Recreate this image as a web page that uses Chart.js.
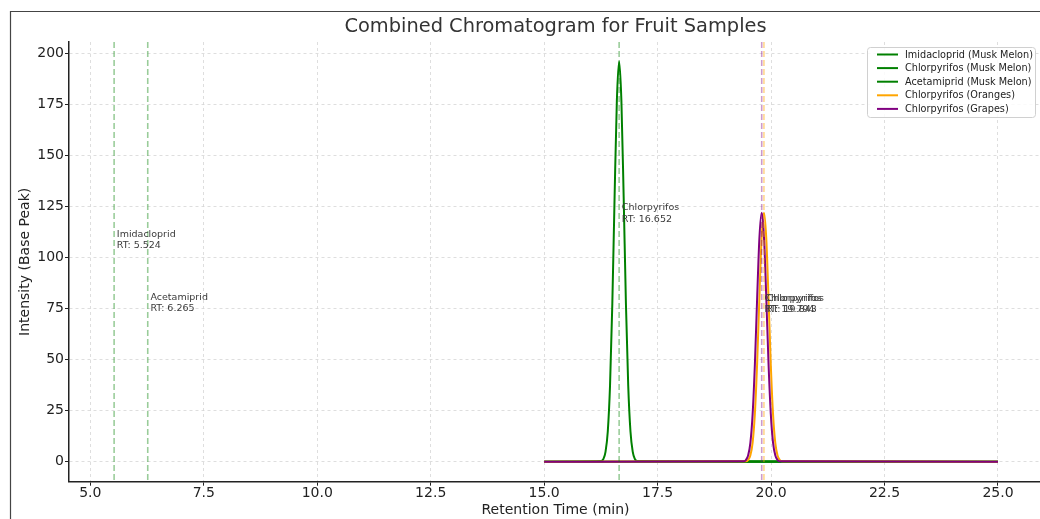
<!DOCTYPE html>
<html>
<head>
<meta charset="utf-8">
<script src="https://cdn.jsdelivr.net/npm/chart.js@4.4.1/dist/chart.umd.min.js"></script>
<style>
  html, body { margin: 0; padding: 0; background: #fff; overflow: hidden; }
  #wrap { position: relative; width: 1060px; height: 519px; }
</style>
</head>
<body>
<div id="wrap"><canvas id="myChart" width="1060" height="519"></canvas></div>
<script>
// flat baselines (compounds that elute outside 15-25 min)
const timeFlat = [15.0, 25.0];
const intensityFlat = [0, 0];

// Chlorpyrifos peak, Musk Melon
const timeMelonChlor = [15.0, 16.252, 16.302, 16.352, 16.402, 16.452, 16.502, 16.552, 16.602, 16.652,
  16.702, 16.752, 16.802, 16.852, 16.902, 16.952, 17.002, 17.052, 25.0];
const intensityMelonChlor = [0, 0.3, 1.2, 4.8, 14.8, 37.5, 77.3, 129.7, 176.8, 196,
  176.8, 129.7, 77.3, 37.5, 14.8, 4.8, 1.2, 0.3, 0];

// Chlorpyrifos peak, Oranges
const timeOranges = [15.0, 19.443, 19.493, 19.543, 19.593, 19.643, 19.693, 19.743, 19.793, 19.843,
  19.893, 19.943, 19.993, 20.043, 20.093, 20.143, 20.193, 20.243, 25.0];
const intensityOranges = [0, 0.2, 0.8, 3.0, 9.2, 23.4, 48.1, 80.7, 110.0, 122,
  110.0, 80.7, 48.1, 23.4, 9.2, 3.0, 0.8, 0.2, 0];

// Chlorpyrifos peak, Grapes
const timeGrapes = [15.0, 19.394, 19.444, 19.494, 19.544, 19.594, 19.644, 19.694, 19.744, 19.794,
  19.844, 19.894, 19.944, 19.994, 20.044, 20.094, 20.144, 20.194, 25.0];
const intensityGrapes = [0, 0.2, 0.8, 3.0, 9.2, 23.4, 48.1, 80.7, 110.0, 122,
  110.0, 80.7, 48.1, 23.4, 9.2, 3.0, 0.8, 0.2, 0];

const seriesLabels = [
  "Imidacloprid (Musk Melon)", "Chlorpyrifos (Musk Melon)", "Acetamiprid (Musk Melon)",
  "Chlorpyrifos (Oranges)", "Chlorpyrifos (Grapes)"
];
const seriesColors = ["#008000", "#008000", "#008000", "#FFA500", "#800080"];

// retention time markers
const markerNames = ["Imidacloprid", "Chlorpyrifos", "Acetamiprid", "Chlorpyrifos", "Chlorpyrifos"];
const markerRT = [5.524, 16.652, 6.265, 19.843, 19.794];
const markerLabelY = [104.5, 117.6, 73.8, 73.2, 73.2];
const markerColors = ["rgba(0,128,0,0.4)", "rgba(0,128,0,0.4)", "rgba(0,128,0,0.4)",
  "rgba(255,165,0,0.45)", "rgba(128,0,128,0.4)"];

const xTicks = [5.0, 7.5, 10.0, 12.5, 15.0, 17.5, 20.0, 22.5, 25.0];
const yTicks = [0, 25, 50, 75, 100, 125, 150, 175, 200];

const FONT = "'DejaVu Sans', 'Liberation Sans', sans-serif";

function toPoints(xs, ys) {
    return xs.map(function (x, i) { return {x: x, y: ys[i]}; });
}

var datasets = [
    toPoints(timeFlat, intensityFlat),
    toPoints(timeMelonChlor, intensityMelonChlor),
    toPoints(timeFlat, intensityFlat),
    toPoints(timeOranges, intensityOranges),
    toPoints(timeGrapes, intensityGrapes)
].map(function (pts, i) {
    return {
        label: seriesLabels[i],
        data: pts,
        borderColor: seriesColors[i],
        backgroundColor: seriesColors[i],
        borderWidth: 2,
        pointRadius: 0,
        cubicInterpolationMode: "monotone",
        fill: false,
        order: 5 - i  // later series drawn on top, like matplotlib
    };
});

const extras = {
    id: "extras",
    afterDatasetsDraw: function (chart) {
        var ctx = chart.ctx, area = chart.chartArea;
        var xs = chart.scales.x, ys = chart.scales.y;
        ctx.save();
        ctx.beginPath();
        ctx.rect(area.left, area.top, area.right - area.left, area.bottom - area.top);
        ctx.clip();
        // dashed retention time lines
        for (var i = 0; i < markerRT.length; i++) {
            var px = xs.getPixelForValue(markerRT[i]);
            ctx.strokeStyle = markerColors[i];
            ctx.lineWidth = 1.6;
            ctx.setLineDash([6, 3]);
            ctx.beginPath();
            ctx.moveTo(px, area.top);
            ctx.lineTo(px, area.bottom);
            ctx.stroke();
        }
        ctx.setLineDash([]);
        // labels
        ctx.font = "9.5px " + FONT;
        ctx.fillStyle = "#3a3a3a";
        ctx.textAlign = "left";
        ctx.textBaseline = "alphabetic";
        for (var j = 0; j < markerRT.length; j++) {
            var tx = xs.getPixelForValue(markerRT[j] + 0.06);
            var ty = ys.getPixelForValue(markerLabelY[j]);
            ctx.fillText(markerNames[j], tx, ty - 11.4);
            ctx.fillText("RT: " + markerRT[j].toFixed(3), tx, ty);
        }
        ctx.restore();
    },
    afterDraw: function (chart) {
        var ctx = chart.ctx, area = chart.chartArea;
        ctx.save();
        // title
        ctx.font = "19.4px " + FONT;
        ctx.fillStyle = "#333";
        ctx.textAlign = "center";
        ctx.textBaseline = "middle";
        ctx.fillText("Combined Chromatogram for Fruit Samples", (area.left + area.right) / 2, 27);

        // legend
        var bx = 867, by = 47, bw = 168, bh = 70;
        ctx.fillStyle = "rgba(255,255,255,0.85)";
        ctx.strokeStyle = "#d0d0d0";
        ctx.lineWidth = 1;
        ctx.beginPath();
        ctx.roundRect(bx + 0.5, by + 0.5, bw, bh, 3);
        ctx.fill();
        ctx.stroke();
        ctx.font = "9.7px " + FONT;
        ctx.textAlign = "left";
        ctx.textBaseline = "middle";
        for (var i = 0; i < seriesLabels.length; i++) {
            var ry = 54.5 + i * 13.6;
            ctx.strokeStyle = seriesColors[i];
            ctx.lineWidth = 2;
            ctx.beginPath();
            ctx.moveTo(877, ry);
            ctx.lineTo(898, ry);
            ctx.stroke();
            ctx.fillStyle = "#222";
            ctx.fillText(seriesLabels[i], 905, ry + 0.5);
        }

        // figure frame
        ctx.strokeStyle = "#444";
        ctx.lineWidth = 1.2;
        ctx.beginPath();
        ctx.moveTo(10.5, 519);
        ctx.lineTo(10.5, 11.5);
        ctx.lineTo(1060, 11.5);
        ctx.stroke();
        ctx.restore();
    }
};

var chart = new Chart(document.getElementById("myChart").getContext("2d"), {
    type: "line",
    data: { datasets: datasets },
    plugins: [extras],
    options: {
        responsive: false,
        animation: false,
        events: [],
        layout: { padding: { top: 42, right: 18, left: 0, bottom: 0 } },
        plugins: { legend: { display: false }, title: { display: false }, tooltip: { enabled: false } },
        scales: {
            x: {
                type: "linear",
                min: 4.53,
                max: 25.97,
                afterFit: function (s) { s.height = 37.3; },
                afterBuildTicks: function (s) { s.ticks = xTicks.map(function (v) { return {value: v}; }); },
                ticks: {
                    font: { family: FONT, size: 14 },
                    color: "#222",
                    padding: -1,
                    maxRotation: 0,
                    autoSkip: false,
                    callback: function (v) { return Number(v).toFixed(1); }
                },
                grid: { color: "#d6d6d6", lineWidth: 0.8, tickLength: 4, tickColor: "#222", tickWidth: 1 },
                border: { display: true, color: "#222", width: 1.5, dash: [3, 3] },
                title: {
                    display: true, text: "Retention Time (min)",
                    font: { family: FONT, size: 14 }, color: "#222",
                    padding: { top: 0, bottom: 0 }
                }
            },
            y: {
                type: "linear",
                min: -9.8,
                max: 205.6,
                afterFit: function (s) { s.width = 69; },
                afterBuildTicks: function (s) { s.ticks = yTicks.map(function (v) { return {value: v}; }); },
                ticks: {
                    font: { family: FONT, size: 14 },
                    color: "#222",
                    padding: 1,
                    autoSkip: false
                },
                grid: { color: "#d6d6d6", lineWidth: 0.8, tickLength: 4, tickColor: "#222", tickWidth: 1 },
                border: { display: true, color: "#222", width: 1.5, dash: [3, 3] },
                title: {
                    display: true, text: "Intensity (Base Peak)",
                    font: { family: FONT, size: 14 }, color: "#222",
                    padding: { top: 16.6, bottom: 0 }
                }
            }
        }
    }
});
</script>
</body>
</html>
